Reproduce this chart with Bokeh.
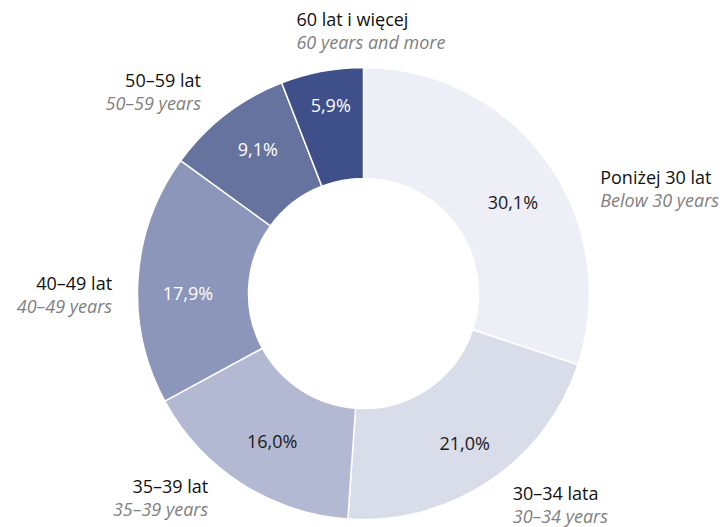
import numpy as np
from bokeh.plotting import figure
from bokeh.models import Range1d, ColumnDataSource
from bokeh.core.properties import value
from bokeh.embed import file_html
from bokeh.resources import INLINE

# ---- data ----
categories_pl = ["Poniżej 30 lat", "30–34 lata", "35–39 lat", "40–49 lat", "50–59 lat", "60 lat i więcej"]
categories_en = ["Below 30 years", "30–34 years", "35–39 years", "40–49 years", "50–59 years", "60 years and more"]
shares = [30.1, 21.0, 16.0, 17.9, 9.1, 5.9]

# ---- style ----
colors = ["#eeeff6", "#d9dce9", "#b3b9d3", "#8c96bb", "#67739f", "#3e4f8a"]
pct_colors = ["#1a1a1a", "#1a1a1a", "#1a1a1a", "#ffffff", "#ffffff", "#ffffff"]
label_align = ["left", "left", "right", "right", "right", "left"]
label_nudge = [(34, 41), (10, 3), (-20, -6), (-2, 17), (-10, -4), (-21, -17)]  # screen px (dx, dy down)
pct_nudge = [(5, 13), (2, 2), (5, -2), (2, 11), (3, -4), (0, -14)]            # screen px (dx, dy down)
FONT = "Open Sans"

W, H = 728, 527
cx, cy = 363, H - 293          # donut centre (y up, page pixels)
r_out, r_in = 226, 115
r_pct = 178
r_lab = 250

total = float(sum(shares))
frac = np.array(shares) / total
cum_end = np.cumsum(frac)
cum_start = cum_end - frac
start_ang = np.pi / 2 - 2 * np.pi * cum_start
end_ang = np.pi / 2 - 2 * np.pi * cum_end
mid_ang = (start_ang + end_ang) / 2

p = figure(width=W, height=H, output_backend="svg", toolbar_location=None,
           x_range=Range1d(0, W), y_range=Range1d(0, H),
           min_border=0, outline_line_color=None, background_fill_color="white")
p.axis.visible = False
p.grid.visible = False

src = ColumnDataSource(dict(start=start_ang, end=end_ang, color=colors))
p.annular_wedge(x=cx, y=cy, inner_radius=r_in, outer_radius=r_out,
                start_angle="start", end_angle="end", direction="clock",
                fill_color="color", line_color="white", line_width=1.5, source=src)

# percentage labels
pct_text = [f"{v:.1f}".replace(".", ",") + "%" for v in shares]
px_ = cx + r_pct * np.cos(mid_ang) + np.array([n[0] for n in pct_nudge])
py_ = cy + r_pct * np.sin(mid_ang) - np.array([n[1] for n in pct_nudge])
psrc = ColumnDataSource(dict(x=px_, y=py_, t=pct_text, c=pct_colors))
p.text(x="x", y="y", text="t", text_color="c", source=psrc, text_align="center",
       text_baseline="middle", text_font=value(FONT), text_font_size="18px")

# category labels
lx = cx + r_lab * np.cos(mid_ang) + np.array([n[0] for n in label_nudge])
ly = cy + r_lab * np.sin(mid_ang) - np.array([n[1] for n in label_nudge])
for i in range(len(shares)):
    p.text(x=[lx[i]], y=[ly[i] + 11.5], text=[categories_pl[i]], text_align=label_align[i],
           text_baseline="middle", text_font=value(FONT), text_font_size="18px",
           text_color="#111111")
    p.text(x=[lx[i]], y=[ly[i] - 11.5], text=[categories_en[i]], text_align=label_align[i],
           text_baseline="middle", text_font=value(FONT), text_font_size="18px",
           text_font_style="italic", text_color="#808080")

open("out.html", "w").write(file_html(p, INLINE))
